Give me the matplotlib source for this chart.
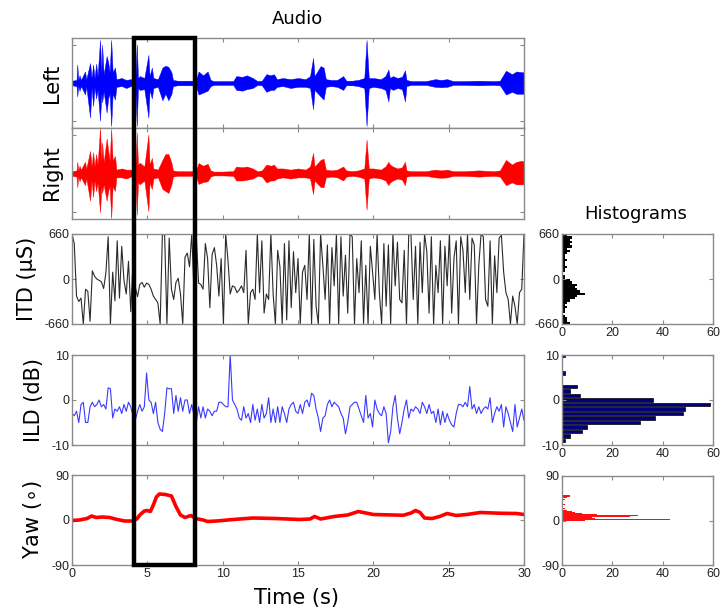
import numpy as np
import matplotlib
matplotlib.use('Agg')
import matplotlib.pyplot as plt
from matplotlib.patches import Rectangle
from matplotlib.transforms import blended_transform_factory

plt.rcParams['axes.unicode_minus'] = False
plt.rcParams['font.family'] = 'DejaVu Sans'

# ---------------- data ----------------
# audio envelope (time, upper, lower)
env_t = [0.0, 0.3, 0.35, 0.42, 0.5, 0.6, 0.86, 0.95, 1.2, 1.3,
         1.4, 1.5, 1.6, 1.7, 1.86, 1.95, 2.0, 2.1, 2.3, 2.4,
         2.5, 2.6, 2.7, 2.85, 2.95, 3.3, 3.6, 3.9, 4.2, 4.3,
         4.38, 4.5, 4.8, 5.07, 5.15, 5.3, 5.4, 5.7, 6.0, 6.2,
         6.4, 6.6, 6.7, 7.0, 7.5, 8.0, 8.2, 8.4, 8.7, 9.0,
         9.2, 9.4, 10.0, 10.7, 10.9, 11.3, 11.6, 12.0, 12.3, 12.6,
         12.9, 13.2, 13.4, 13.6, 14.0, 14.5, 15.0, 15.5, 15.8, 16.0,
         16.1, 16.5, 16.7, 16.85, 17.2, 17.6, 18.0, 18.2, 18.6, 19.0,
         19.4, 19.55, 19.7, 20.0, 20.5, 20.8, 21.0, 21.1, 21.3, 21.6,
         21.9, 22.1, 22.2, 22.5, 23.0, 23.5, 24.1, 24.5, 24.9, 25.3,
         26.0, 27.0, 28.0, 28.4, 28.8, 29.2, 29.5, 29.9, 30.0]
left_up = [0.06, 0.08, 0.48, 0.08, 0.20, 0.08, 0.30, 0.10, 0.52, 0.12,
           0.48, 0.12, 0.50, 0.18, 1.12, 0.28, 1.00, 0.22, 0.70, 0.55,
           0.28, 1.12, 0.28, 0.40, 0.10, 0.13, 0.08, 0.10, 0.08, 1.00,
           0.13, 0.18, 0.13, 0.73, 0.18, 0.40, 0.13, 0.10, 0.40, 0.45,
           0.42, 0.28, 0.08, 0.06, 0.06, 0.06, 0.04, 0.30, 0.20, 0.30,
           0.08, 0.05, 0.05, 0.05, 0.18, 0.16, 0.20, 0.13, 0.05, 0.06,
           0.23, 0.20, 0.23, 0.10, 0.13, 0.10, 0.13, 0.10, 0.18, 0.65,
           0.18, 0.44, 0.40, 0.10, 0.08, 0.08, 0.18, 0.06, 0.06, 0.08,
           0.13, 1.12, 0.13, 0.13, 0.10, 0.18, 0.35, 0.13, 0.18, 0.13,
           0.16, 0.33, 0.08, 0.05, 0.05, 0.05, 0.10, 0.08, 0.10, 0.05,
           0.05, 0.06, 0.05, 0.06, 0.32, 0.23, 0.30, 0.28, 0.28]
left_lo = [-0.06, -0.08, -0.35, -0.08, -0.20, -0.08, -0.30, -0.10, -0.90, -0.12,
           -0.60, -0.12, -0.40, -0.18, -0.98, -0.28, -0.50, -0.22, -0.77, -0.40,
           -0.28, -1.12, -0.28, -0.43, -0.10, -0.08, -0.13, -0.08, -0.08, -1.12,
           -0.13, -0.18, -0.16, -0.90, -0.18, -0.40, -0.13, -0.10, -0.45, -0.28,
           -0.45, -0.28, -0.08, -0.06, -0.06, -0.06, -0.04, -0.30, -0.25, -0.20,
           -0.08, -0.05, -0.05, -0.05, -0.18, -0.20, -0.16, -0.13, -0.05, -0.06,
           -0.23, -0.18, -0.18, -0.10, -0.08, -0.13, -0.10, -0.10, -0.13, -0.68,
           -0.18, -0.35, -0.43, -0.10, -0.08, -0.10, -0.18, -0.06, -0.06, -0.08,
           -0.13, -1.12, -0.13, -0.10, -0.13, -0.18, -0.48, -0.13, -0.18, -0.13,
           -0.16, -0.48, -0.08, -0.05, -0.05, -0.05, -0.10, -0.11, -0.10, -0.05,
           -0.05, -0.06, -0.05, -0.06, -0.30, -0.23, -0.28, -0.28, -0.28]
right_up = [0.06, 0.08, 0.30, 0.08, 0.20, 0.10, 0.30, 0.13, 0.58, 0.18,
            0.55, 0.18, 0.50, 0.23, 1.17, 0.33, 0.80, 0.28, 0.90, 0.60,
            0.33, 1.15, 0.33, 0.45, 0.10, 0.13, 0.10, 0.10, 0.08, 1.06,
            0.23, 0.28, 0.18, 1.00, 0.23, 0.40, 0.13, 0.10, 0.35, 0.50,
            0.50, 0.28, 0.08, 0.06, 0.06, 0.06, 0.04, 0.27, 0.20, 0.25,
            0.08, 0.05, 0.05, 0.06, 0.18, 0.16, 0.18, 0.13, 0.06, 0.08,
            0.23, 0.20, 0.23, 0.13, 0.13, 0.10, 0.13, 0.10, 0.18, 0.53,
            0.18, 0.35, 0.38, 0.10, 0.08, 0.10, 0.18, 0.08, 0.06, 0.08,
            0.13, 0.87, 0.13, 0.13, 0.10, 0.18, 0.30, 0.23, 0.18, 0.13,
            0.16, 0.30, 0.08, 0.06, 0.06, 0.06, 0.10, 0.08, 0.10, 0.06,
            0.06, 0.08, 0.06, 0.08, 0.35, 0.23, 0.30, 0.33, 0.28]
right_lo = [-0.06, -0.08, -0.35, -0.08, -0.20, -0.10, -0.30, -0.13, -0.70, -0.18,
            -0.60, -0.18, -0.45, -0.23, -1.00, -0.33, -0.50, -0.28, -0.70, -0.45,
            -0.33, -1.15, -0.33, -0.45, -0.10, -0.10, -0.13, -0.08, -0.08, -1.06,
            -0.23, -0.28, -0.18, -0.97, -0.23, -0.40, -0.13, -0.10, -0.40, -0.45,
            -0.50, -0.28, -0.08, -0.06, -0.06, -0.06, -0.04, -0.27, -0.22, -0.20,
            -0.08, -0.05, -0.05, -0.06, -0.18, -0.18, -0.16, -0.13, -0.06, -0.08,
            -0.23, -0.18, -0.18, -0.13, -0.10, -0.13, -0.10, -0.10, -0.13, -0.53,
            -0.18, -0.35, -0.35, -0.10, -0.08, -0.10, -0.18, -0.08, -0.06, -0.08,
            -0.13, -0.93, -0.13, -0.10, -0.13, -0.18, -0.30, -0.23, -0.18, -0.13,
            -0.16, -0.30, -0.08, -0.06, -0.06, -0.06, -0.10, -0.11, -0.10, -0.06,
            -0.06, -0.08, -0.06, -0.08, -0.30, -0.23, -0.28, -0.28, -0.28]

# ITD (microseconds), sampled every 0.15 s
itd = [660, 520, -250, -330, -280, -660, -150, -180, -620, 120,
       40, 0, -20, -40, -140, 90, 620, -660, 100, -320,
       560, -280, 480, -20, -220, 260, -480,
       250, -120, -260, -80, -50, -120, -60, -80, -150, -250,
       -300, -350, -660, 660, 640, -660, 600, -150, -300, -50,
       10, -220, -660, 320, 380, 180, 660,
       -200, 620, -60, -80, -150, 520, 300, -420, 360, 460,
       200, -250, 300, -660, 660, 280, -220, -100, -120, -200,
       -160, -100, -200, 420, -660, -200, -150,
       -300, 660, -200, 560, -500, -220, -300, 660, -220, -660,
       420, 180, -660, 520, -600, 560, -420, 400, -200, 300,
       -660, 100, 200, -300, 660, -660, 580,
       -400, -660, 660, 200, -300, 500, -660, 460, -100, 660,
       -660, 620, -250, 350, -500, 660, 620, -660, 300, -200,
       560, -660, 200, -660, 480, 100, -300,
       660, -200, -660, 520, -400, 500, -660, 660, -100, 540,
       -300, -350, 420, -660, 660, 640, -300, 480, -660, 540,
       -200, 660, 400, -500, 620, -660, 200,
       -200, 560, -660, 480, -100, 660, -500, 300, 560, -660,
       620, 420, -200, 660, -300, 600, 500, -660, 200, 660,
       620, -300, -400, 560, -660, 340, -200,
       600, 640, 100, -200, -300, -660, -250, -400, -660, -200,
       -150, 660]

# ILD (dB), sampled every 0.15 s
ild = [-3, -3.5, -2.5, -5, -1, -0.5, -5, -5, -1.5, -0.5,
       -1.5, -1, 0, -1.5, -1, -2, 2.7, 2.5, -4, -2,
       -2.5, -1.5, -3, -1, -2.5, -0.5, -1.5, -3.5, -4.5, -2.5,
       -1, -2.5, -1.5, 6, 0, -0.5, -3, -0.5, -5, -6.5,
       -7, -3, 2.7, 2.5, 2.5, -3, 1, -2.5, 0.5, -2.5,
       0, 0, -3, -1, -3.5, -5, -1.5, -4, -1.5, -4,
       -2, -2.5, -3.5, -2.5, -2.5, -0.5, -0.5, -1, -1.5, -1.5,
       10, 0, -1, -2, -4, -4.5, -1.5, -4, -3, -5,
       -1, -4.5, -2, -5, -1, -4, -3, 0.5, -5, -2,
       -5, -1.5, -5, -1.5, -3, -5, -2, -1, -0.5, -2.5,
       -3, -1, -3, -0.5, 0, -1.5, 1.5, 1, -2, -4,
       -7, -4, -3.5, -1, 0, -1.5, -0.5, -1, -1.5, -3,
       -4, -7.5, -5, -1.5, -1, -0.5, -0.5, -2, -3.5, -5,
       1, -4, -3, -6, 0, -2, -3, -3.5, -1.5, -3,
       -9.5, -7, -1.5, 1, -4, -7.5, -5, -2, 0, -4,
       -2, -2.5, -1.5, -2, -3, -0.5, -1.5, -3, -1, -3,
       -2.5, -5, -2, -5.5, -2.5, -5, -3, -4.5, -5.5, -6,
       -3, -1, -1, -1.5, -0.5, -1.5, 3, -2, -1, -3,
       -1.5, -3, -2, -1.5, -2, 0.5, -5, -3, -1.5, -2.5,
       -1, -6, -1.5, -3, -5, -7, -1, -6, -4, -2,
       -4.5]

# head yaw (degrees)
yaw_t = [0, 0.5, 1.0, 1.3, 1.6, 2.0, 2.5, 3.0, 3.5, 4.0,
         4.3, 4.5, 4.8, 5.0, 5.2, 5.4, 5.6, 5.8, 6.2, 6.6,
         6.9, 7.2, 7.5, 7.9, 8.2, 8.7, 9.0, 9.6, 10.7, 12.0,
         13.5, 15.1, 15.8, 16.1, 16.5, 17.4, 18.3, 19.0, 19.5, 20.0,
         22.0, 22.5, 22.8, 23.1, 23.4, 23.9, 24.4, 24.9, 25.5, 26.2,
         27.1, 28.4, 29.5, 30.0]
yaw = [-1, 0, 3, 8, 5, 6, 5, 1, -2, -2,
       2, 10, 18, 19, 17, 30, 46, 52, 51, 48,
       27, 10, 5, 9, 3, 0, -3, -2, 1, 4,
       3, 1, 2, 7, 2, 7, 10, 17, 14, 11,
       9.5, 14, 19, 15, 4, 3, 7, 13, 9, 11,
       15, 13.5, 13, 11]

# histograms
itd_hist_counts = [3, 2, 2, 1, 0, 1, 1, 2, 1, 2,
                   3, 5, 6, 9, 7, 6, 5, 6, 4, 3,
                   1, 1, 0, 1, 1, 2, 1, 1, 2, 1,
                   1, 2, 3, 2, 4, 3, 4, 3, 4, 2]
ild_hist_bins = [10, 6, 3, 2, 1, 0, -1, -2, -3, -4, -5, -6, -7, -8, -9]
ild_hist_counts = [1, 1, 6, 3, 7, 36, 59, 49, 48, 37, 31, 10, 8, 3, 1]
yaw_hist_bins = [-3, -1, 1, 3, 5, 7, 9, 11, 13, 15, 17, 19, 21, 25, 33, 43, 47, 49, 51]
yaw_hist_counts = [1, 4, 9, 43, 13, 12, 27, 30, 14, 8, 5, 4, 2, 1, 1, 1, 2, 3, 3]

# ---------------- figure ----------------
W, H = 720, 609
fig = plt.figure(figsize=(W / 100, H / 100), dpi=100)

def box(l, t, r, b):
    return [l / W, 1 - b / H, (r - l) / W, (b - t) / H]

SPINE = '#8a8a8a'

def style(ax):
    for s in ax.spines.values():
        s.set_color(SPINE)
        s.set_linewidth(1.0)
    ax.tick_params(direction='in', length=3, width=0.8, color=SPINE,
                   top=True, right=True, labelcolor='#222222', pad=2)
    for lab in ax.get_xticklabels() + ax.get_yticklabels():
        lab.set_fontfamily('Liberation Sans')
        lab.set_fontsize(9)

ax_l = fig.add_axes(box(72, 38, 524, 128))
ax_r = fig.add_axes(box(72, 128, 524, 219))
ax_itd = fig.add_axes(box(72, 234, 524, 324))
ax_ild = fig.add_axes(box(72, 355, 524, 445))
ax_yaw = fig.add_axes(box(72, 475, 524, 565))
hx_itd = fig.add_axes(box(562, 234, 713, 324))
hx_ild = fig.add_axes(box(562, 355, 713, 445))
hx_yaw = fig.add_axes(box(562, 476, 713, 565))

xt = [0, 5, 10, 15, 20, 25, 30]

ax_l.fill_between(env_t, left_lo, left_up, color='#0000ff', lw=0.3)
ax_r.fill_between(env_t, right_lo, right_up, color='#ff0000', lw=0.3)
for ax in (ax_l, ax_r):
    ax.set_xlim(0, 30)
    ax.set_ylim(-1.17, 1.17)
    ax.set_yticks([-1, 1])
    ax.set_xticks(xt)
    ax.set_xticklabels([])
    ax.set_yticklabels([])

t_itd = np.linspace(0, 30, len(itd))
ax_itd.plot(t_itd, itd, color='#2a2a2a', lw=0.8)
ax_itd.set_xlim(0, 30)
ax_itd.set_ylim(-660, 660)
ax_itd.set_yticks([-660, 0, 660])
ax_itd.set_xticks(xt)
ax_itd.set_xticklabels([])

t_ild = np.linspace(0, 30, len(ild))
ax_ild.plot(t_ild, ild, color='#3a3aff', lw=0.8)
ax_ild.set_xlim(0, 30)
ax_ild.set_ylim(-10, 10)
ax_ild.set_yticks([-10, 0, 10])
ax_ild.set_xticks(xt)
ax_ild.set_xticklabels([])

ax_yaw.plot(yaw_t, yaw, color='#ff0000', lw=2.6, solid_joinstyle='round')
ax_yaw.set_xlim(0, 30)
ax_yaw.set_ylim(-90, 90)
ax_yaw.set_yticks([-90, 0, 90])
ax_yaw.set_xticks(xt)

itd_centers = np.arange(len(itd_hist_counts)) * 33 - 660 + 16.5
hx_itd.barh(itd_centers, itd_hist_counts, height=33, color='black', lw=0)
hx_itd.set_ylim(-660, 660)
hx_itd.set_yticks([-660, 0, 660])

hx_ild.barh(ild_hist_bins, ild_hist_counts, height=0.85, color='#00007f',
            edgecolor='black', lw=0.5)
hx_ild.set_ylim(-10, 10)
hx_ild.set_yticks([-10, 0, 10])

hx_yaw.barh(yaw_hist_bins, yaw_hist_counts, height=2, color='#ff1010', lw=0)
hx_yaw.set_ylim(-90, 90)
hx_yaw.set_yticks([-90, 0, 90])

for hx in (hx_itd, hx_ild, hx_yaw):
    hx.set_xlim(0, 60)
    hx.set_xticks([0, 20, 40, 60])

for ax in (ax_l, ax_r, ax_itd, ax_ild, ax_yaw, hx_itd, hx_ild, hx_yaw):
    style(ax)

# labels
LBL = 15
fig.text(52 / W, 1 - 83 / H, 'Left', rotation=90, ha='center', va='center', fontsize=LBL)
fig.text(52 / W, 1 - 173 / H, 'Right', rotation=90, ha='center', va='center', fontsize=LBL)
fig.text(27 / W, 1 - 279 / H, 'ITD (\u03bcS)', rotation=90, ha='center', va='center', fontsize=LBL)
fig.text(34 / W, 1 - 400 / H, 'ILD (dB)', rotation=90, ha='center', va='center', fontsize=LBL)
fig.text(33 / W, 1 - 520 / H, 'Yaw ($\\circ$)', rotation=90, ha='center', va='center', fontsize=LBL)
fig.text(297 / W, 1 - 598 / H, 'Time (s)', ha='center', va='center', fontsize=LBL)
fig.text(297 / W, 1 - 19 / H, 'Audio', ha='center', va='center', fontsize=13)
fig.text(636 / W, 1 - 214 / H, 'Histograms', ha='center', va='center', fontsize=13)

# highlight box spanning all time panels
tr = blended_transform_factory(ax_yaw.transData, fig.transFigure)
y0 = 1 - 565 / H
y1 = 1 - 38 / H
ax_yaw.add_patch(Rectangle((4.1, y0), 4.05, y1 - y0, transform=tr, fill=False,
                           lw=3.2, edgecolor='black', clip_on=False, zorder=10))

fig.savefig('out.png', dpi=100)
